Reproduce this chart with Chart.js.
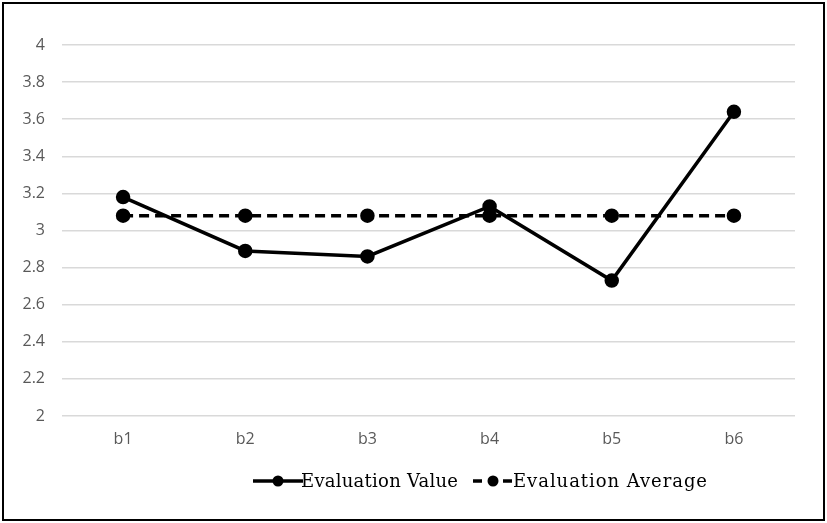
<!DOCTYPE html>
<html>
<head>
<meta charset="utf-8">
<script src="https://cdn.jsdelivr.net/npm/chart.js@4"></script>
<style>
  body { margin: 0; background: #fff; }
  #wrap { width: 827px; height: 523px; }
</style>
</head>
<body>
<div id="wrap"><canvas id="chart" width="827" height="523"></canvas></div>
<script>
const categories = ["b1", "b2", "b3", "b4", "b5", "b6"];
const evalValue = [3.18, 2.89, 2.86, 3.13, 2.73, 3.64];
const evalAverage = [3.08, 3.08, 3.08, 3.08, 3.08, 3.08];
const seriesNames = ["Evaluation Value", "Evaluation Average"];

// frame + custom legend (line with a dot, serif text)
const framePlugin = {
    id: "frame",
    afterDraw(chart) {
        const ctx = chart.ctx;
        ctx.save();
        ctx.strokeStyle = "#000";
        ctx.lineWidth = 2;
        ctx.strokeRect(3, 3, 821, 517);

        const y = 481;
        const items = [
            { x0: 253, x1: 303, dot: 278, tx: 301, tw: 157, dash: [] },
            { x0: 473, x1: 514, dot: 493, tx: 513, tw: 194, dash: [9, 6] }
        ];
        items.forEach((it, i) => {
            ctx.strokeStyle = "#000";
            ctx.fillStyle = "#000";
            ctx.lineWidth = 3.5;
            ctx.setLineDash(it.dash);
            ctx.beginPath();
            ctx.moveTo(it.x0, y);
            ctx.lineTo(it.x1, y);
            ctx.stroke();
            ctx.setLineDash([]);
            ctx.beginPath();
            ctx.arc(it.dot, y, 5.5, 0, Math.PI * 2);
            ctx.fill();
            ctx.font = "18px 'DejaVu Serif'";
            ctx.textBaseline = "middle";
            ctx.textAlign = "left";
            // spread letters so the label spans the same width as the original
            const name = seriesNames[i];
            ctx.letterSpacing = "0px";
            const w = ctx.measureText(name).width;
            ctx.letterSpacing = Math.max(0, (it.tw - w) / (name.length - 1)) + "px";
            ctx.fillText(name, it.tx, y + 1);
        });
        ctx.restore();
    }
};

new Chart(document.getElementById("chart"), {
    type: "line",
    data: {
        labels: categories,
        datasets: [{
            label: seriesNames[0],
            data: evalValue,
            borderColor: "#000",
            backgroundColor: "#000",
            borderWidth: 3.5,
            pointRadius: 5.5,
            pointHoverRadius: 5.5,
            tension: 0
        }, {
            label: seriesNames[1],
            data: evalAverage,
            borderColor: "#000",
            backgroundColor: "#000",
            borderWidth: 3.5,
            borderDash: [10, 6],
            pointRadius: 5.5,
            pointHoverRadius: 5.5,
            tension: 0
        }]
    },
    options: {
        responsive: false,
        animation: false,
        layout: { padding: { top: 45, right: 32, bottom: 0, left: 0 } },
        plugins: {
            legend: { display: false },
            tooltip: { enabled: false }
        },
        scales: {
            x: {
                offset: true,
                grid: { display: false, drawTicks: false },
                border: { display: false },
                ticks: {
                    color: "#595959",
                    padding: 14,
                    font: { family: "'Open Sans'", size: 16 }
                },
                afterFit: axis => { axis.height = 107; }
            },
            y: {
                min: 2,
                max: 4,
                grid: { color: "#d9d9d9", lineWidth: 1.5, drawTicks: false },
                border: { display: false },
                ticks: {
                    stepSize: 0.2,
                    color: "#595959",
                    padding: 17,
                    font: { family: "'Open Sans'", size: 16 },
                    callback: v => Math.round(v * 10) / 10
                },
                afterFit: axis => { axis.width = 62; }
            }
        }
    },
    plugins: [framePlugin]
});
</script>
</body>
</html>
